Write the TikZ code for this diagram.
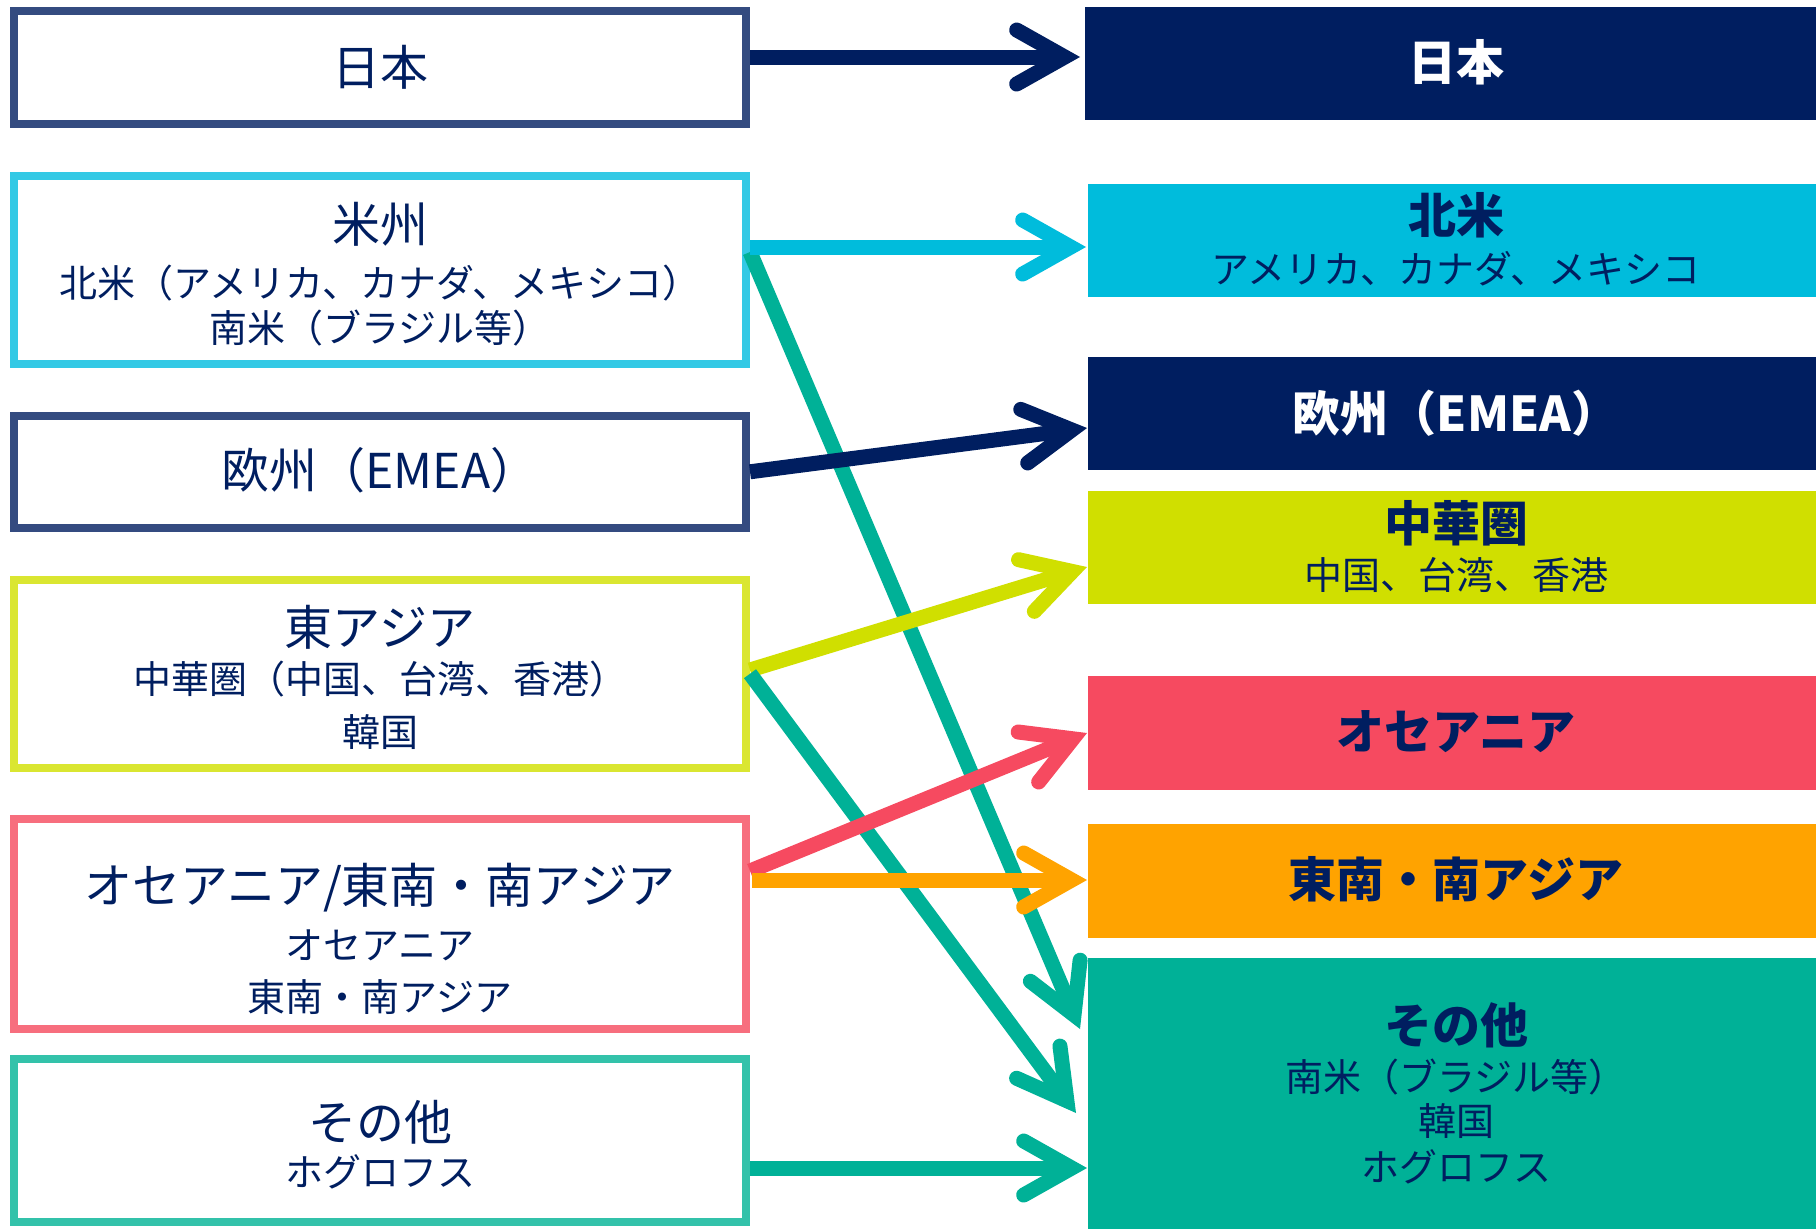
\documentclass[tikz,border=0pt]{standalone}
\usepackage{fontspec}
\setmainfont{Noto Sans CJK JP}
\usetikzlibrary{arrows.meta,calc}
\definecolor{navy}{HTML}{001E60}
\definecolor{navyline}{HTML}{344B80}
\definecolor{cyanfill}{HTML}{00BCDC}
\definecolor{cyanline}{HTML}{33C9E5}
\definecolor{limefill}{HTML}{D0DF00}
\definecolor{limeline}{HTML}{DAE631}
\definecolor{redfill}{HTML}{F64A60}
\definecolor{redline}{HTML}{F76E7E}
\definecolor{tealfill}{HTML}{00B197}
\definecolor{tealline}{HTML}{33C2AA}
\definecolor{orangefill}{HTML}{FFA300}
\tikzset{
  lbox/.style={draw=#1, line width=8pt, rectangle, inner sep=0pt, minimum width=732.5pt},
  rbox/.style={fill=#1, rectangle, inner sep=0pt, outer sep=0pt},
  ttl/.style={anchor=base, inner sep=0pt, text=navy, font=\fontsize{48}{52}\selectfont},
  sub/.style={anchor=base, inner sep=0pt, text=navy, font=\fontsize{38}{42}\selectfont},
  rttl/.style={anchor=base, inner sep=0pt, text=#1, font=\fontsize{48}{52}\selectfont\bfseries},
  conn/.style={draw=#1, line width=15pt, line cap=butt,
    -{Straight Barb[length=48pt, width=54pt, line cap=round, line join=miter]}},
}
\begin{document}
\begin{tikzpicture}[x=1pt, y=-1pt]
\useasboundingbox (0,0) rectangle (1816,1229);

% left boxes
\node[lbox=navyline, minimum height=113pt]   (L1) at (379.75, 67.8)  {};
\node[lbox=cyanline, minimum height=187.4pt] (L2) at (379.75, 270)   {};
\node[lbox=navyline, minimum height=112.3pt] (L3) at (379.75, 471.8) {};
\node[lbox=limeline, minimum height=188pt]   (L4) at (379.75, 673.7) {};
\node[lbox=redline,  minimum height=210pt]   (L5) at (379.75, 924)   {};
\node[lbox=tealline, minimum height=163pt]   (L6) at (379.75, 1140.5){};

% right boxes
\node[rbox=navy,       minimum width=731pt, minimum height=113pt] (R1) at (1450.5, 63.5) {};
\node[rbox=cyanfill,   minimum width=728pt, minimum height=113pt] (R2) at (1452, 240.5) {};
\node[rbox=navy,       minimum width=728pt, minimum height=113pt] (R3) at (1452, 413.5) {};
\node[rbox=limefill,   minimum width=728pt, minimum height=113pt] (R4) at (1452, 547.5) {};
\node[rbox=redfill,    minimum width=728pt, minimum height=114pt] (R5) at (1452, 733) {};
\node[rbox=orangefill, minimum width=728pt, minimum height=114pt] (R6) at (1452, 881) {};
\node[rbox=tealfill,   minimum width=728pt, minimum height=271pt] (R7) at (1452, 1093.5) {};

% left texts
\node[ttl] (l1a) at (380, 85.8) {日本};
\node[ttl] (l2a) at (380, 242.3) {米州};
\node[sub] (l2b) at (380, 297.4) {北米（アメリカ、カナダ、メキシコ）};
\node[sub] (l2c) at (380, 342.4) {南米（ブラジル等）};
\node[ttl] (l3a) at (380, 488.3) {欧州（EMEA）};
\node[ttl] (l4a) at (380, 645.8) {東アジア};
\node[sub] (l4b) at (380, 693.4) {中華圏（中国、台湾、香港）};
\node[sub] (l4c) at (380, 746.9) {韓国};
\node[ttl] (l5a) at (380, 903.3) {オセアニア/東南・南アジア};
\node[sub] (l5b) at (380, 959.4) {オセアニア};
\node[sub] (l5c) at (380, 1011.9) {東南・南アジア};
\node[ttl] (l6a) at (380, 1140.3) {その他};
\node[sub] (l6b) at (380, 1186.9) {ホグロフス};

% right texts
\node[rttl=white] (r1a) at (1456, 80.3) {日本};
\node[rttl=navy]  (r2a) at (1456, 233.8) {北米};
\node[sub]        (r2b) at (1456, 283.4) {アメリカ、カナダ、メキシコ};
\node[rttl=white] (r3a) at (1456, 431.3) {欧州（EMEA）};
\node[rttl=navy]  (r4a) at (1456, 541.8) {中華圏};
\node[sub]        (r4b) at (1456, 589.4) {中国、台湾、香港};
\node[rttl=navy]  (r5a) at (1456, 749.8) {オセアニア};
\node[rttl=navy]  (r6a) at (1456, 897.8) {東南・南アジア};
\node[rttl=navy]  (r7a) at (1456, 1043.8) {その他};
\node[sub]        (r7b) at (1456, 1091.9) {南米（ブラジル等）};
\node[sub]        (r7c) at (1456, 1135.9) {韓国};
\node[sub]        (r7d) at (1456, 1181.9) {ホグロフス};

% connectors
\draw[conn=tealfill]   ($(L2.east)+(0,-18)$) -- ($(R7.west)+(-8,-64.5)$);
\draw[conn=navy]       (L3.east) -- ($(R3.west)+(-1,14.5)$);
\draw[conn=limefill]   ($(L4.east)+(0,-3.7)$) -- ($(R4.west)+(-1,19.5)$);
\draw[conn=tealfill]   (L4.east) -- ($(R7.west)+(-12,19.5)$);
\draw[conn=cyanfill]   ($(L2.east)+(0,-23)$) -- ($(R2.west)+(-2,6.5)$);
\draw[conn=redfill]    ($(L5.east)+(0,-53)$) -- ($(R5.west)+(-1,0)$);
\draw[conn=orangefill] ($(L5.east)+(2,-44)$) -- ($(R6.west)+(-1,-1)$);
\draw[conn=navy]       ($(L1.east)+(0,-10.8)$) -- ($(R1.west)+(-5,-6.5)$);
\draw[conn=tealfill]   ($(L6.east)+(0,27.5)$) -- ($(R7.west)+(-1,74.5)$);
\end{tikzpicture}
\end{document}
